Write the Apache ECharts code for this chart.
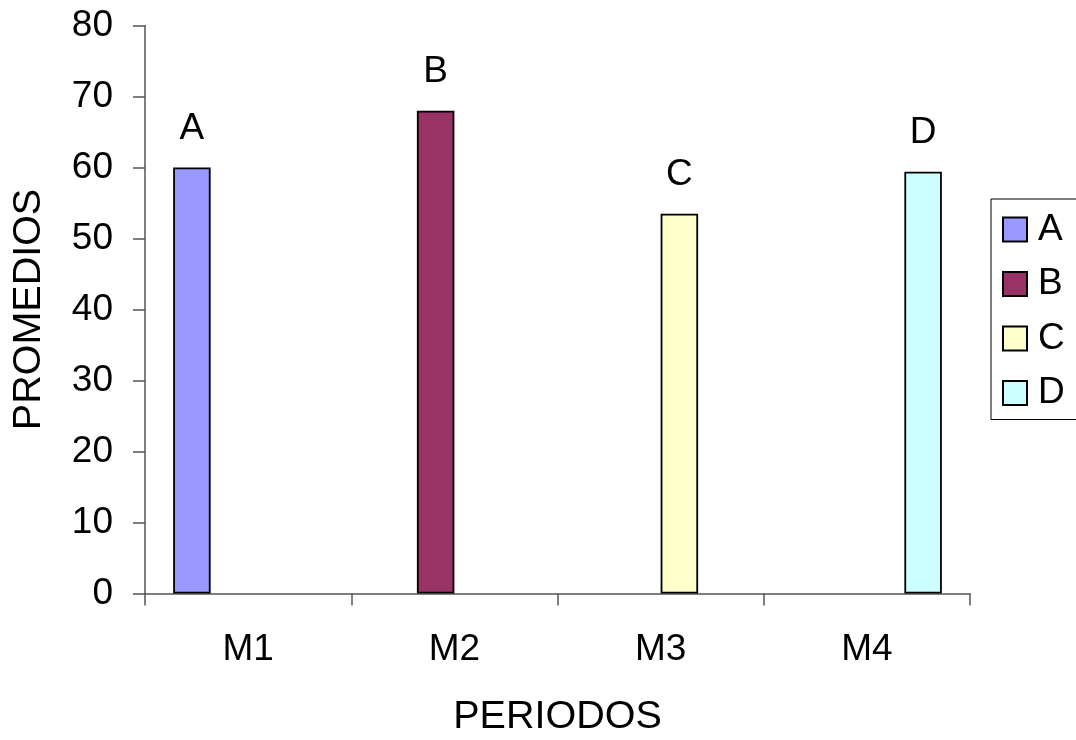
<!DOCTYPE html>
<html>
<head>
<meta charset="utf-8">
<script src="https://cdn.jsdelivr.net/npm/echarts@6/dist/echarts.min.js"></script>
<style>
  html, body { margin: 0; padding: 0; background: #fff; }
  #chart { width: 1076px; height: 740px; }
</style>
</head>
<body>
<div id="chart"></div>
<script>
// Periods on the category axis
const categories = ['M1', 'M2', 'M3', 'M4'];
// Average per group; each group only has a value in its own period
const seriesNames = ['A', 'B', 'C', 'D'];
const valuesA = [60, null, null, null];
const valuesB = [null, 68, null, null];
const valuesC = [null, null, 53.5, null];
const valuesD = [null, null, null, 59.4];
const seriesValues = [valuesA, valuesB, valuesC, valuesD];
const seriesColors = ['#9999FF', '#993366', '#FFFFCC', '#CCFFFF'];

const FONT = '"Liberation Sans", Arial, sans-serif';
const FS = 37;
const NAME_FS = 39.5;

const chart = echarts.init(document.getElementById('chart'), null, { renderer: 'canvas' });

const series = seriesNames.map((name, i) => ({
  name: name,
  type: 'bar',
  data: seriesValues[i],
  barGap: '0%',
  barCategoryGap: '27.3%',
  itemStyle: { color: seriesColors[i], borderColor: '#000', borderWidth: 1.8 },
  label: {
    show: true,
    position: 'top',
    distance: 20,
    formatter: () => name,
    color: '#000',
    fontFamily: FONT,
    fontSize: FS
  },
  emphasis: { disabled: true }
}));

chart.setOption({
  animation: false,
  backgroundColor: '#fff',
  grid: {
    left: 145, right: 106, top: 25.5, bottom: 146.5,
    containLabel: false,
    outerBoundsMode: 'none'
  },
  legend: {
    orient: 'vertical',
    left: 991,
    top: 199,
    padding: [12, 60, 8, 11],
    itemWidth: 24,
    itemHeight: 24,
    itemGap: 17.5,
    icon: 'rect',
    borderColor: '#000',
    borderWidth: 1,
    textStyle: { fontFamily: FONT, fontSize: FS, color: '#000', padding: [0, 0, 0, 6] },
    data: seriesNames
  },
  xAxis: {
    type: 'category',
    data: categories,
    name: 'PERIODOS',
    nameLocation: 'middle',
    nameGap: 104,
    nameTextStyle: { fontFamily: FONT, fontSize: NAME_FS, color: '#000' },
    axisLine: { show: true, lineStyle: { color: '#555', width: 1.5 } },
    axisTick: { show: true, length: 12, lineStyle: { color: '#555', width: 1.5 } },
    axisLabel: { fontFamily: FONT, fontSize: FS, color: '#000', margin: 38 },
    splitLine: { show: false }
  },
  yAxis: {
    type: 'value',
    min: 0,
    max: 80,
    interval: 10,
    name: 'PROMEDIOS',
    nameLocation: 'middle',
    nameGap: 96,
    nameTextStyle: { fontFamily: FONT, fontSize: NAME_FS, color: '#000' },
    axisLine: { show: true, lineStyle: { color: '#555', width: 1.5 } },
    axisTick: { show: true, length: 12, inside: false, lineStyle: { color: '#555', width: 1.5 } },
    axisLabel: { fontFamily: FONT, fontSize: FS, color: '#000', margin: 32 },
    splitLine: { show: false }
  },
  series: series
});
</script>
</body>
</html>
